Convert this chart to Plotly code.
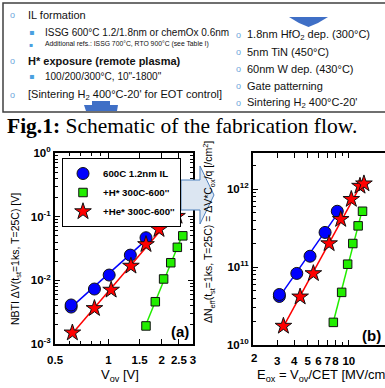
import numpy as np
import plotly.graph_objects as go

W, H = 385, 388
def px(x): return x / W
def py(y): return 1 - y / H

# ---------------- data ----------------
# panel (a): Vov [V] vs NBTI dV [V]
a_il_x = [0.616, 0.616, 0.834, 1.01, 1.33, 1.63]
a_il_y = [0.0038, 0.0041, 0.0073, 0.0121, 0.0249, 0.0467]
a_h_x = [1.63, 1.84, 2.05, 2.25, 2.45, 2.63]
a_h_y = [0.00192, 0.00461, 0.0105, 0.0189, 0.033, 0.050]
a_he_x = [0.626, 0.834, 1.036, 1.34, 1.63, 1.93, 2.23, 2.44]
a_he_y = [0.00150, 0.00363, 0.00705, 0.0168, 0.0367, 0.0633, 0.0975, 0.102]

# panel (b): Eox [MV/cm] vs dNeff [/cm2]
b_il_x = [3.11, 3.11, 4.17, 5.21, 6.71, 8.24]
b_il_y = [4.2e10, 4.45e10, 8.3e10, 1.38e11, 2.79e11, 5.22e11]
b_h_x = [7.71, 8.87, 9.81, 10.7, 11.7, 12.6]
b_h_y = [1.95e10, 4.74e10, 1.09e11, 2.01e11, 3.39e11, 5.22e11]
b_he_x = [3.33, 4.41, 5.51, 7.18, 8.73, 10.43, 12.07, 12.9]
b_he_y = [1.75e10, 4.16e10, 8.3e10, 2.01e11, 4.12e11, 7.45e11, 1.10e12, 1.18e12]

series_names = ["600C 1.2nm IL", "+H* 300C-600''", "+He* 300C-600''"]

a_xticks = [0.5, 1, 1.5, 2, 2.5, 3]
a_xticklabels = ["0.5", "1", "1.5", "2", "2.5", "3"]
a_yticks = [1e-3, 1e-2, 1e-1, 1]
a_yticklabels = ["10<sup>-3</sup>", "10<sup>-2</sup>", "10<sup>-1</sup>", "10<sup>0</sup>"]
b_xticks = [2, 3, 4, 5, 6, 7, 8, 10, 20]
b_xticklabels = ["2", "3", "4", "5", "6", "7", "8", "10", "20"]
b_yticks = [1e10, 1e11, 1e12]
b_yticklabels = ["10<sup>10</sup>", "10<sup>11</sup>", "10<sup>12</sup>"]

left_items = [
    ("o", "IL formation", 0),
    ("s", "ISSG 600°C 1.2/1.8nm or chemOx 0.6nm", 1),
    ("s", "Additional refs.: ISSG 700°C, RTO 900°C (see Table I)", 2),
    ("o", "<b>H* exposure (remote plasma)</b>", 0),
    ("s", "100/200/300°C, 10\"-1800\"", 1),
    ("o", "[Sintering H<sub>2</sub> 400°C-20' for EOT control]", 0),
]
right_items = [
    "1.8nm HfO<sub>2</sub> dep. (300°C)",
    "5nm TiN (450°C)",
    "60nm W dep. (430°C)",
    "Gate patterning",
    "Sintering H<sub>2</sub> 400°C-20'",
]

# ---------------- figure ----------------
FONT = "Liberation Sans"
fig = go.Figure()

colors = ["#0000ff", "#22ee00", "#ff0000"]
symbols = ["circle", "square", "star"]
sizes = [12, 8.5, 12.5]

def fit_line(x, y):
    lx, ly = np.log10(x), np.log10(y)
    p = np.polyfit(lx, ly, 1)
    xs = np.array([min(lx), max(lx)])
    return 10 ** xs, 10 ** np.polyval(p, xs)

panels = [
    ("x", "y", [(a_il_x, a_il_y), (a_h_x, a_h_y), (a_he_x, a_he_y)]),
    ("x2", "y2", [(b_il_x, b_il_y), (b_h_x, b_h_y), (b_he_x, b_he_y)]),
]
for pi, (xa, ya, data) in enumerate(panels):
    for si, (xx, yy) in enumerate(data):
        lx, ly = fit_line(xx, yy)
        fig.add_trace(go.Scatter(x=lx, y=ly, mode="lines", xaxis=xa, yaxis=ya,
                                 line=dict(color=colors[si], width=1.5),
                                 showlegend=False, hoverinfo="skip"))
    for si, (xx, yy) in enumerate(data):
        fig.add_trace(go.Scatter(x=xx, y=yy, mode="markers", xaxis=xa, yaxis=ya,
                                 name=series_names[si], showlegend=(pi == 0),
                                 marker=dict(symbol=symbols[si], size=sizes[si],
                                             color=colors[si],
                                             line=dict(color="#111111", width=1))))

tickfont = dict(family=FONT, size=11.5, color="black", weight="bold")
common = dict(type="log", showline=True, linecolor="black", linewidth=2,
              ticks="inside", ticklen=5, tickwidth=1, tickcolor="black",
              showgrid=False, zeroline=False, tickfont=tickfont, tickmode="array",
              automargin=False, tickangle=0)

# first tick label of panel (b) x axis is drawn as an annotation (plotly hides it at the corner)
b_xticklabels_axis = [""] + b_xticklabels[1:]

fig.update_layout(
    width=W, height=H, margin=dict(l=0, r=0, t=0, b=0, autoexpand=False),
    paper_bgcolor="white", plot_bgcolor="white", showlegend=True,
    xaxis=dict(common, domain=[px(55), px(193)],
               range=[np.log10(0.5) - 0.0005, np.log10(3) + 0.0005],
               tickvals=a_xticks, ticktext=a_xticklabels, mirror="allticks",
               anchor="y", ticklabelstandoff=4,
               minor=dict(ticks="inside", ticklen=3, tickcolor="black",
                          tickvals=[0.6, 0.7, 0.8, 0.9])),
    yaxis=dict(common, domain=[py(344), py(153)], range=[-3.0005, 0.0005],
               tickvals=a_yticks, ticktext=a_yticklabels, mirror="allticks",
               anchor="x",
               minor=dict(ticks="inside", ticklen=3, tickcolor="black",
                          tickvals=[m * 10.0 ** e for e in (-3, -2, -1) for m in range(2, 10)])),
    xaxis2=dict(common, domain=[px(253), 1.0], range=[np.log10(2) - 0.0008, 1.2645],
                tickvals=b_xticks, ticktext=b_xticklabels_axis, mirror="allticks",
                anchor="y2", ticklabelstandoff=4,
                minor=dict(ticks="inside", ticklen=3, tickcolor="black", tickvals=[9])),
    yaxis2=dict(common, domain=[py(345), py(153)], range=[9.9995, 12.466],
                tickvals=b_yticks, ticktext=b_yticklabels, mirror=False,
                anchor="x2",
                minor=dict(ticks="inside", ticklen=3, tickcolor="black",
                           tickvals=[m * 10.0 ** e for e in (10, 11, 12) for m in range(2, 10)])),
    legend=dict(x=px(62), y=py(158), xanchor="left", yanchor="top",
                bordercolor="black", borderwidth=1, bgcolor="white",
                font=dict(family=FONT, size=9.7, color="black", weight="bold"),
                itemsizing="trace", tracegroupgap=0, itemwidth=30),
)

ann = []
shapes = []

# ----- text box -----
shapes.append(dict(type="rect", xref="paper", yref="paper",
                   x0=px(3), x1=px(392), y0=py(112), y1=py(3),
                   line=dict(color="#404040", width=1.5), fillcolor="rgba(0,0,0,0)"))

left_y = [15, 32, 44, 61, 77, 95]
for (btype, txt, lvl), yy in zip(left_items, left_y):
    if btype == "o":
        ann.append(dict(x=px(13), y=py(yy), text="o", showarrow=False,
                        xanchor="center", yanchor="middle",
                        font=dict(family=FONT, size=9, color="#6fa8dc")))
        ann.append(dict(x=px(26), y=py(yy), text=txt, showarrow=False,
                        xanchor="left", yanchor="middle",
                        font=dict(family=FONT, size=11, color="#111111")))
    else:
        fs = 10 if lvl == 1 else 6.8
        ann.append(dict(x=px(31), y=py(yy), text="▪", showarrow=False,
                        xanchor="center", yanchor="middle",
                        font=dict(family="DejaVu Sans", size=8 if lvl == 1 else 6, color="#4aa0e0")))
        ann.append(dict(x=px(43), y=py(yy), text=txt, showarrow=False,
                        xanchor="left", yanchor="middle",
                        font=dict(family=FONT, size=fs, color="#111111")))

right_y = [35, 52, 69, 86, 103]
for txt, yy in zip(right_items, right_y):
    ann.append(dict(x=px(238), y=py(yy), text="o", showarrow=False,
                    xanchor="center", yanchor="middle",
                    font=dict(family=FONT, size=9, color="#6fa8dc")))
    ann.append(dict(x=px(245), y=py(yy), text=txt, showarrow=False,
                    xanchor="left", yanchor="middle",
                    font=dict(family=FONT, size=11, color="#111111")))

def path(pts):
    s = "M " + " L ".join(f"{px(x):.5f},{py(y):.5f}" for x, y in pts) + " Z"
    return s

# small blue arrows in text box
shapes.append(dict(type="path", xref="paper", yref="paper",
                   path=path([(92, 101), (110, 101), (110, 105), (118, 105), (117, 111), (86, 111), (84, 105), (92, 105)]),
                   fillcolor="#3f6fc6", line=dict(width=0)))
shapes.append(dict(type="path", xref="paper", yref="paper",
                   path=path([(289, 17), (328, 17), (318, 23), (308.5, 27), (299, 23)]),
                   fillcolor="#3f6fc6", line=dict(width=0)))

# caption
ann.append(dict(x=px(5), y=py(126), text="<b>Fig.1:</b> Schematic of the fabrication flow.",
                showarrow=False, xanchor="left", yanchor="middle",
                font=dict(family="Liberation Serif", size=21.5, color="black")))

# big arrow between panels
shapes.append(dict(type="path", xref="paper", yref="paper", layer="above",
                   path=path([(181, 180), (200, 180), (200, 166), (214, 195), (200, 224), (200, 210), (181, 210)]),
                   fillcolor="#dce6f2", line=dict(color="#4f81bd", width=1)))

# first x tick label of panel (b), at the left corner of the axis
ann.append(dict(x=px(254), y=py(350), text="<b>" + b_xticklabels[0] + "</b>",
                showarrow=False, xanchor="center", yanchor="top",
                font=dict(family=FONT, size=11.5, color="black")))

# axis titles
ann.append(dict(x=px(120), y=py(375), text="V<sub>ov</sub> [V]", showarrow=False,
                xanchor="center", yanchor="middle",
                font=dict(family=FONT, size=13, color="black")))
ann.append(dict(x=px(16), y=py(259), text="NBTI \u0394V(t<sub>st</sub>=1ks, T=25C) [V]",
                showarrow=False, textangle=-90, xanchor="center", yanchor="middle",
                font=dict(family=FONT, size=10.5, color="black")))
ann.append(dict(x=px(255), y=py(375), text="E<sub>ox</sub> = V<sub>ov</sub>/CET [MV/cm]",
                showarrow=False, xanchor="left", yanchor="middle",
                font=dict(family=FONT, size=13, color="black")))
ann.append(dict(x=px(209), y=py(232),
                text="\u0394N<sub>eff</sub>(t<sub>st</sub>=1ks, T=25C) = \u0394V*C<sub>ox</sub>/q [/cm<sup>2</sup>]",
                showarrow=False, textangle=-90, xanchor="center", yanchor="middle",
                font=dict(family=FONT, size=10.5, color="black")))

# panel labels
ann.append(dict(x=px(180), y=py(331), text="<b>(a)</b>", showarrow=False,
                xanchor="center", yanchor="middle",
                font=dict(family=FONT, size=15, color="black")))
ann.append(dict(x=px(360), y=py(335), text="<b>(b)</b>", showarrow=False,
                xanchor="left", yanchor="middle",
                font=dict(family=FONT, size=15, color="black")))

for a in ann:
    a.setdefault("xref", "paper")
    a.setdefault("yref", "paper")
fig.update_layout(annotations=ann, shapes=shapes)

fig.write_html("out.html", config={"displayModeBar": False},
               post_script="document.body.style.margin='0px';document.body.style.overflow='hidden';")
